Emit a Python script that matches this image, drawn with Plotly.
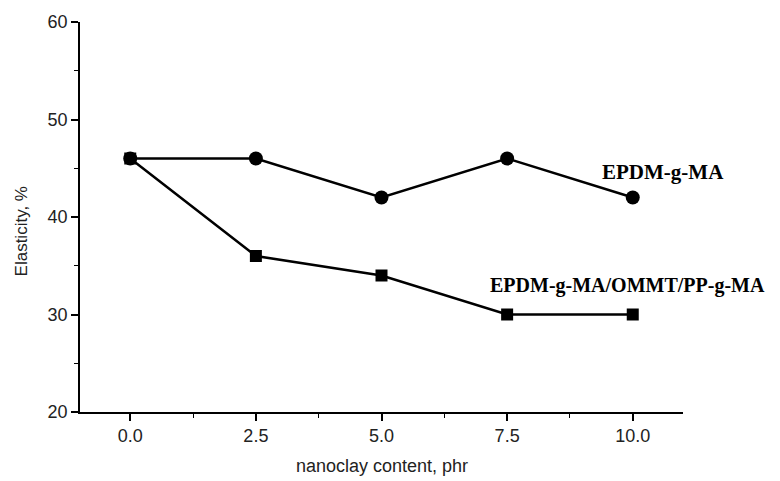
import plotly.graph_objects as go

content = [0.0, 2.5, 5.0, 7.5, 10.0]
epdm = [46, 46, 42, 46, 42]
epdm_ommt = [46, 36, 34, 30, 30]
x_ticks = [0.0, 2.5, 5.0, 7.5, 10.0]
x_tick_labels = ["0.0", "2.5", "5.0", "7.5", "10.0"]
y_ticks = [20, 30, 40, 50, 60]

fig = go.Figure()
fig.add_trace(go.Scatter(x=content, y=epdm_ommt, mode="lines+markers",
                         line=dict(color="black", width=2.5),
                         marker=dict(symbol="square", size=12, color="black"),
                         name="EPDM-g-MA/OMMT/PP-g-MA"))
fig.add_trace(go.Scatter(x=content, y=epdm, mode="lines+markers",
                         line=dict(color="black", width=2.5),
                         marker=dict(symbol="circle", size=14, color="black"),
                         name="EPDM-g-MA"))

serif = "Liberation Serif"
sans = "Liberation Sans"
fig.add_annotation(x=10.6, y=44.6, xref="x", yref="y", text="<b>EPDM-g-MA</b>",
                   showarrow=False, font=dict(family=serif, size=21, color="black"))
fig.add_annotation(x=9.9, y=33.0, xref="x", yref="y", text="<b>EPDM-g-MA/OMMT/PP-g-MA</b>",
                   showarrow=False, font=dict(family=serif, size=20, color="black"))

# axis titles
fig.add_annotation(x=0.5, y=0, xref="paper", yref="paper", text="nanoclay content, phr",
                   showarrow=False, xanchor="center", yanchor="middle", yshift=-54,
                   font=dict(family=sans, size=18, color="#222"))
fig.add_annotation(x=0, y=0.463, xref="paper", yref="paper", text="Elasticity, %",
                   showarrow=False, xanchor="center", yanchor="middle", xshift=-59, textangle=-90,
                   font=dict(family=sans, size=17, color="#222"))

fig.update_layout(
    width=780, height=481,
    margin=dict(l=71.5, r=104.5, t=14, b=77),
    plot_bgcolor="white", paper_bgcolor="white",
    showlegend=False,
    font=dict(family=sans, color="#222"),
    xaxis=dict(range=[-1, 11], tickvals=x_ticks, ticktext=x_tick_labels, automargin=False,
               showgrid=False, zeroline=False, showline=True, linecolor="black", linewidth=1.5,
               ticks="outside", ticklen=7, tickwidth=1.5, tickcolor="black",
               minor=dict(dtick=1.25, tick0=0, ticks="outside", ticklen=4, tickwidth=1.2, tickcolor="black"),
               tickfont=dict(size=18, family=sans, color="#222")),
    yaxis=dict(range=[20, 60], tickvals=y_ticks, automargin=False,
               showgrid=False, zeroline=False, showline=True, linecolor="black", linewidth=1.5,
               ticks="outside", ticklen=7, tickwidth=1.5, tickcolor="black",
               minor=dict(dtick=5, tick0=20, ticks="outside", ticklen=4, tickwidth=1.2, tickcolor="black"),
               tickfont=dict(size=18, family=sans, color="#222")),
)

fig.write_html("out.html")
